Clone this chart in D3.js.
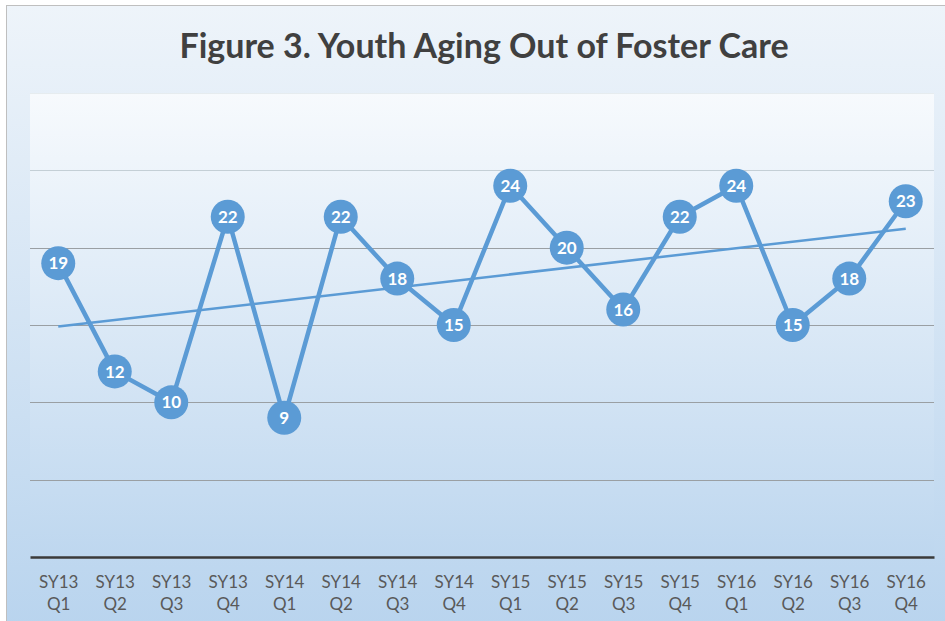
<!DOCTYPE html>
<html>
<head>
<meta charset="utf-8">
<script src="https://cdn.jsdelivr.net/npm/d3@7"></script>
<style>
  body { margin: 0; background: #fff; }
  svg text { font-family: Lato, "Open Sans", sans-serif; }
</style>
</head>
<body>
<div class="chart"></div>
<script>
var svgWidth = 945;
var svgHeight = 621;

// chart data
var quarters = ["SY13 Q1", "SY13 Q2", "SY13 Q3", "SY13 Q4", "SY14 Q1", "SY14 Q2", "SY14 Q3", "SY14 Q4",
  "SY15 Q1", "SY15 Q2", "SY15 Q3", "SY15 Q4", "SY16 Q1", "SY16 Q2", "SY16 Q3", "SY16 Q4"];
var youthCounts = [19, 12, 10, 22, 9, 22, 18, 15, 24, 20, 16, 22, 24, 15, 18, 23];
var gridValues = [5, 10, 15, 20, 25, 30];

var margin = { top: 93, right: 11, bottom: 64, left: 30 };
var width = svgWidth - margin.left - margin.right;
var height = svgHeight - margin.top - margin.bottom;

var svg = d3.select(".chart")
  .append("svg")
  .attr("width", svgWidth)
  .attr("height", svgHeight);

var defs = svg.append("defs");
var outerGrad = defs.append("linearGradient")
  .attr("id", "outerGrad").attr("x1", 0).attr("y1", 0).attr("x2", 0).attr("y2", 1);
outerGrad.append("stop").attr("offset", "0%").attr("stop-color", "#eef4fa");
outerGrad.append("stop").attr("offset", "100%").attr("stop-color", "#b9d4ee");

var plotGrad = defs.append("linearGradient")
  .attr("id", "plotGrad").attr("x1", 0).attr("y1", 0).attr("x2", 0).attr("y2", 1);
plotGrad.append("stop").attr("offset", "0%").attr("stop-color", "#f7fafd");
plotGrad.append("stop").attr("offset", "100%").attr("stop-color", "#bed7ef");

// chart background and border
svg.append("rect")
  .attr("x", 6.5).attr("y", 5.5)
  .attr("width", svgWidth).attr("height", svgHeight)
  .attr("fill", "url(#outerGrad)")
  .attr("stroke", "#bfbfbf");

svg.append("text")
  .attr("x", 484)
  .attr("y", 58)
  .attr("text-anchor", "middle")
  .style("font-size", "34px")
  .style("font-weight", "bold")
  .attr("fill", "#404040")
  .text("Figure 3. Youth Aging Out of Foster Care");

var chartGroup = svg.append("g")
  .attr("transform", `translate(${margin.left}, ${margin.top})`);

chartGroup.append("rect")
  .attr("width", width).attr("height", height)
  .attr("fill", "url(#plotGrad)");

var xScale = d3.scalePoint()
  .domain(quarters)
  .range([0, width])
  .padding(0.5);

var yScale = d3.scaleLinear()
  .domain([0, 30])
  .range([height, 0]);

// gridlines
chartGroup.selectAll(".grid")
  .data(gridValues)
  .enter()
  .append("line")
  .attr("x1", 0).attr("x2", width)
  .attr("y1", d => Math.round(yScale(d)) + 0.5)
  .attr("y2", d => Math.round(yScale(d)) + 0.5)
  .attr("stroke", d => d == 30 ? "#e6ecef" : d == 25 ? "#c4cfd6" : "#9a9fa3")
  .attr("stroke-width", 1.2);

// bottom axis
var bottomAxis = d3.axisBottom(xScale).tickSize(0).tickPadding(12);
var xAxis = chartGroup.append("g")
  .attr("transform", `translate(0, ${height})`)
  .call(bottomAxis);
xAxis.select(".domain").attr("stroke", "#3a3a3a").attr("stroke-width", 2.5);
xAxis.selectAll(".tick text").remove();
xAxis.selectAll(".tick").append("text")
  .attr("fill", "#595959")
  .attr("text-anchor", "middle")
  .style("font-size", "17px")
  .selectAll("tspan")
  .data(d => d.split(" "))
  .enter()
  .append("tspan")
  .attr("x", 0)
  .attr("y", (d, i) => 31 + i * 22)
  .text(d => d);

// linear trendline
var xs = youthCounts.map((d, i) => i + 1);
var xMean = d3.mean(xs);
var yMean = d3.mean(youthCounts);
var slope = d3.sum(xs, (x, i) => (x - xMean) * (youthCounts[i] - yMean)) / d3.sum(xs, x => (x - xMean) * (x - xMean));
var intercept = yMean - slope * xMean;
var n = quarters.length;
chartGroup.append("line")
  .attr("x1", xScale(quarters[0]))
  .attr("y1", yScale(intercept + slope * 1))
  .attr("x2", xScale(quarters[n - 1]))
  .attr("y2", yScale(intercept + slope * n))
  .attr("stroke", "#5b9bd5")
  .attr("stroke-width", 2.5);

// data line
var line = d3.line()
  .x((d, i) => xScale(quarters[i]))
  .y(d => yScale(d));
chartGroup.append("path")
  .datum(youthCounts)
  .attr("d", line)
  .attr("fill", "none")
  .attr("stroke", "#5b9bd5")
  .attr("stroke-width", 4.5)
  .attr("stroke-linejoin", "round");

// markers
var points = chartGroup.selectAll(".pt")
  .data(youthCounts)
  .enter()
  .append("g")
  .attr("transform", (d, i) => `translate(${xScale(quarters[i])}, ${yScale(d)})`);

points.append("circle")
  .attr("r", 17)
  .attr("fill", "#5b9bd5");

points.append("text")
  .attr("text-anchor", "middle")
  .attr("dy", "0.36em")
  .attr("fill", "#fff")
  .style("font-size", "17px")
  .style("font-weight", "bold")
  .text(d => d);
</script>
</body>
</html>
